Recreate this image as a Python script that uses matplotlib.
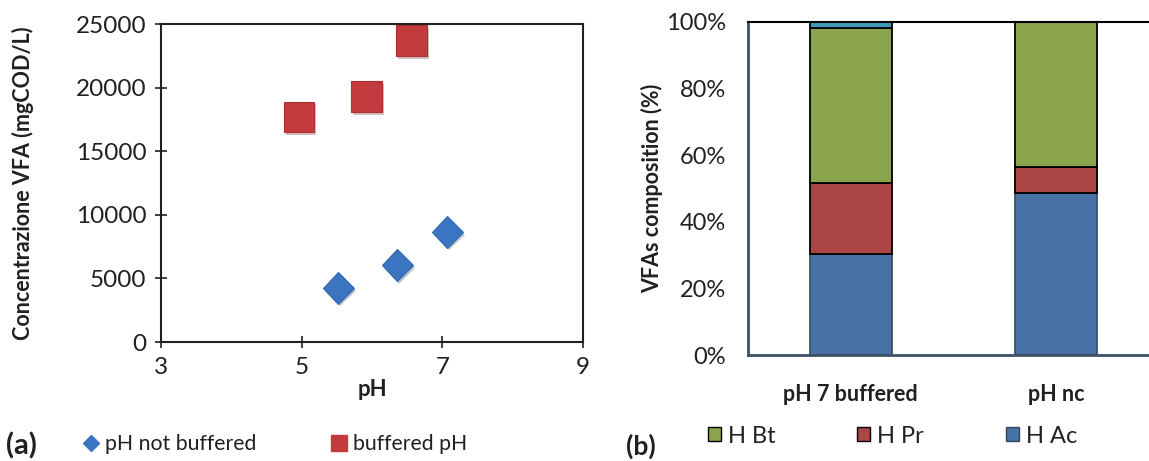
import matplotlib.pyplot as plt
import matplotlib.patheffects as pe
from matplotlib.lines import Line2D
from matplotlib.patches import Patch

plt.rcParams['font.family'] = ['Lato', 'DejaVu Sans']

# (a) scatter data
ph_not_buffered = [5.52, 6.36, 7.07]
vfa_not_buffered = [4250, 6050, 8650]
ph_buffered = [4.96, 5.92, 6.56]
vfa_buffered = [17700, 19300, 23700]

# (b) composition data (%)
groups = ['pH 7 buffered', 'pH nc']
h_ac = [30.3, 48.6]
h_pr = [21.4, 7.9]
h_bt = [46.5, 43.5]
h_other = [1.8, 0.0]

fig = plt.figure(figsize=(11.49, 4.61), dpi=100)
ink = '#231f20'

# Set up the scatter axes
ax1 = fig.add_axes([161 / 1149, 1 - 342 / 461, 422 / 1149, 318 / 461])
shadow = [pe.withSimplePatchShadow(offset=(1.5, -2), alpha=0.25)]
ax1.plot(ph_not_buffered, vfa_not_buffered, 'D', ms=16, color='#3b74c1',
         mec='#3168b0', mew=0.8, path_effects=shadow)
ax1.plot(ph_buffered, vfa_buffered, 's', ms=22, color='#c23a3b',
         mec='#b02f31', mew=0.8, path_effects=shadow)
ax1.set_xlim(3, 9)
ax1.set_ylim(0, 25000)
ax1.set_xticks([3, 5, 7, 9])
ax1.set_yticks(range(0, 25001, 5000))
for s in ax1.spines.values():
    s.set_color(ink)
    s.set_linewidth(1.5)
ax1.tick_params(direction='inout', length=9, width=1.2, color=ink,
                labelsize=17.5, labelcolor=ink, pad=6)
ax1.set_xlabel('pH', fontsize=16, fontweight='bold', color=ink, labelpad=1)
ax1.set_ylabel('Concentrazione VFA (mgCOD/L)', fontsize=15.5,
               fontweight='bold', color=ink, labelpad=30)

# Stacked bars for composition
ax2 = fig.add_axes([748 / 1149, 1 - 355 / 461, 410.5 / 1149, 333 / 461])
x = range(len(groups))
w = 0.4
bottom2 = [a + p for a, p in zip(h_ac, h_pr)]
bottom3 = [b + t for b, t in zip(bottom2, h_bt)]
ax2.bar(x, h_ac, w, color='#4672a6', edgecolor='#34495f', linewidth=1.2)
ax2.bar(x, h_pr, w, bottom=h_ac, color='#aa4744', edgecolor='black', linewidth=1.3)
ax2.bar(x, h_bt, w, bottom=bottom2, color='#8aa54e', edgecolor='black', linewidth=1.3)
ax2.bar(x, h_other, w, bottom=bottom3, color='#3f9ab6', edgecolor='black', linewidth=1.3)
ax2.set_xlim(-0.5, 1.5)
ax2.set_ylim(0, 100)
ax2.set_yticks(range(0, 101, 20))
ax2.set_yticklabels([f'{v}%' for v in range(0, 101, 20)])
ax2.set_xticks(list(x))
ax2.tick_params(length=0, labelsize=17, labelcolor=ink, pad=21)
ax2.set_xticklabels(groups, fontweight='bold', fontsize=15.5)
ax2.tick_params(axis='y', pad=16)
ax2.spines['left'].set_color('#3d5066')
ax2.spines['bottom'].set_color('#3d5066')
ax2.spines['left'].set_linewidth(2)
ax2.spines['bottom'].set_linewidth(2)
ax2.spines['top'].set_color('black')
ax2.spines['top'].set_linewidth(1.5)
ax2.spines['right'].set_visible(False)
ax2.set_ylabel('VFAs composition (%)', fontsize=15.5, fontweight='bold',
               color=ink, labelpad=2)

# Legends, one entry each so they sit where the reference has them
def legend_entry(handle, label, x_px, y_px, size, hl):
    fig.legend([handle], [label], loc='center left',
               bbox_to_anchor=(x_px / 1149, 1 - y_px / 461), frameon=False,
               fontsize=size, handlelength=hl, handleheight=hl,
               handletextpad=0.3, borderaxespad=0, borderpad=0,
               labelcolor=ink)

fig.text(6 / 1149, 1 - 446 / 461, '(a)', fontsize=21, fontweight='bold',
         color=ink, va='center')
legend_entry(Line2D([], [], marker='D', ls='', ms=8, color='#3b74c1'),
             'pH not buffered', 84, 444, 15.3, 0.7)
legend_entry(Line2D([], [], marker='s', ls='', ms=11, color='#c23a3b'),
             'buffered pH', 332, 444, 15.3, 0.7)

fig.text(626 / 1149, 1 - 446 / 461, '(b)', fontsize=19, fontweight='bold',
         color=ink, va='center')
legend_entry(Patch(facecolor='#8aa54e', edgecolor='black'), 'H Bt', 708, 436, 17, 0.55)
legend_entry(Patch(facecolor='#aa4744', edgecolor='black'), 'H Pr', 857, 436, 17, 0.55)
legend_entry(Patch(facecolor='#4672a6', edgecolor='#34495f'), 'H Ac', 1006, 436, 17, 0.55)

plt.savefig('out.png', dpi=100)
